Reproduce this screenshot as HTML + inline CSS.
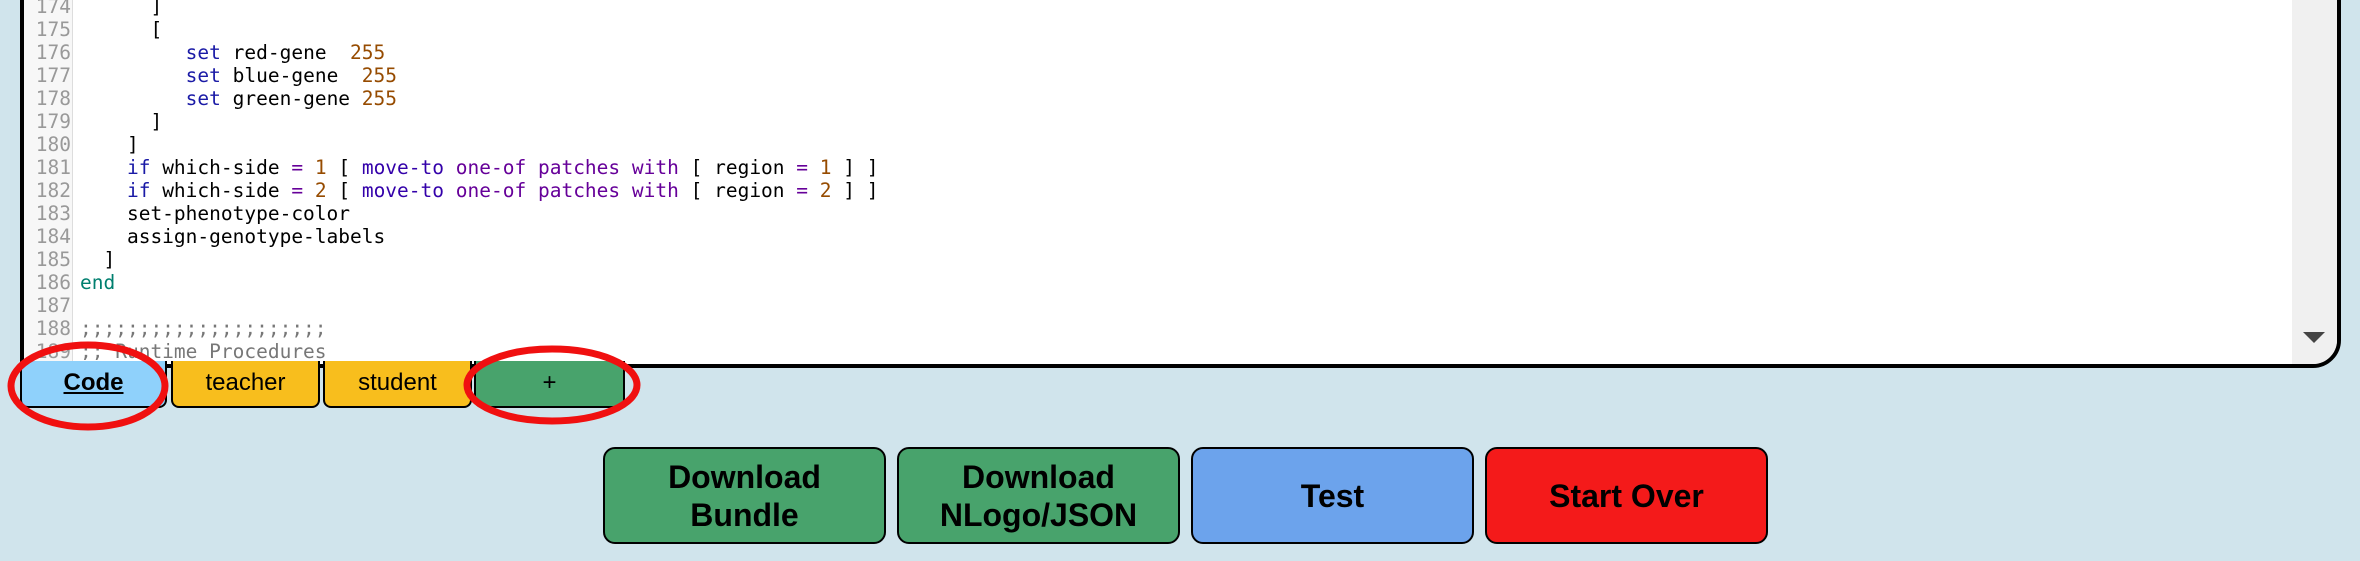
<!DOCTYPE html>
<html><head><meta charset="utf-8">
<style>
html,body{margin:0;padding:0;}
body{width:2360px;height:561px;background:#d0e4ec;position:relative;overflow:hidden;font-family:"Liberation Sans",sans-serif;}
#ed{position:absolute;left:20px;top:-20px;width:2313px;height:380px;background:#fff;border:4px solid #000;border-bottom-right-radius:28px;overflow:hidden;}
#gut{position:absolute;left:0;top:0;width:48px;height:100%;background:#f7f7f7;border-right:1px solid #ddd;}
#sb{position:absolute;right:0;top:0;width:45px;height:100%;background:#f0f0f0;}
#tri{position:absolute;left:2303px;top:332px;width:0;height:0;border-left:11px solid transparent;border-right:11px solid transparent;border-top:11px solid #444;}
.ln{position:absolute;left:0;width:47px;text-align:right;color:#999;font-family:"DejaVu Sans Mono",monospace;font-size:19.5px;line-height:23px;}
.cd{position:absolute;left:56px;white-space:pre;color:#000;font-family:"DejaVu Sans Mono",monospace;font-size:19.5px;line-height:23px;}
.k{color:#1a1aa6}.n{color:#964b00}.p{color:#660099}.m{color:#3300aa}.e{color:#007f6f}.c{color:#777}
.tab{position:absolute;top:361px;height:45px;border:2px solid #000;border-top:none;border-radius:0 0 8px 8px;text-align:center;line-height:43px;font-size:24px;}
.btn{position:absolute;top:447px;height:93px;width:279px;border:2px solid #000;border-radius:12px;display:flex;align-items:center;justify-content:center;text-align:center;font-weight:bold;font-size:32px;line-height:38px;}
</style></head><body>
<div id="ed">
<div id="gut"></div><div id="sb"></div>
</div>
<div id="tri"></div>
<div style="position:absolute;left:24px;top:-5px;width:2270px;height:365px;overflow:hidden;">
<div class="ln" style="top:0">174</div><div class="cd" style="top:0">      ]</div>
<div class="ln" style="top:23px">175</div><div class="cd" style="top:23px">      [</div>
<div class="ln" style="top:46px">176</div><div class="cd" style="top:46px">         <span class="k">set</span> red-gene  <span class="n">255</span></div>
<div class="ln" style="top:69px">177</div><div class="cd" style="top:69px">         <span class="k">set</span> blue-gene  <span class="n">255</span></div>
<div class="ln" style="top:92px">178</div><div class="cd" style="top:92px">         <span class="k">set</span> green-gene <span class="n">255</span></div>
<div class="ln" style="top:115px">179</div><div class="cd" style="top:115px">      ]</div>
<div class="ln" style="top:138px">180</div><div class="cd" style="top:138px">    ]</div>
<div class="ln" style="top:161px">181</div><div class="cd" style="top:161px">    <span class="k">if</span> which-side <span class="p">=</span> <span class="n">1</span> [ <span class="m">move-to</span> <span class="p">one-of</span> <span class="p">patches</span> <span class="p">with</span> [ region <span class="p">=</span> <span class="n">1</span> ] ]</div>
<div class="ln" style="top:184px">182</div><div class="cd" style="top:184px">    <span class="k">if</span> which-side <span class="p">=</span> <span class="n">2</span> [ <span class="m">move-to</span> <span class="p">one-of</span> <span class="p">patches</span> <span class="p">with</span> [ region <span class="p">=</span> <span class="n">2</span> ] ]</div>
<div class="ln" style="top:207px">183</div><div class="cd" style="top:207px">    set-phenotype-color</div>
<div class="ln" style="top:230px">184</div><div class="cd" style="top:230px">    assign-genotype-labels</div>
<div class="ln" style="top:253px">185</div><div class="cd" style="top:253px">  ]</div>
<div class="ln" style="top:276px">186</div><div class="cd" style="top:276px"><span class="e">end</span></div>
<div class="ln" style="top:299px">187</div><div class="cd" style="top:299px"></div>
<div class="ln" style="top:322px">188</div><div class="cd c" style="top:322px">;;;;;;;;;;;;;;;;;;;;;</div>
<div class="ln" style="top:345px">189</div><div class="cd c" style="top:345px">;; Runtime Procedures</div>
</div>
<div class="tab" style="left:20px;width:143px;background:#8fd1fb;font-weight:bold;"><u>Code</u></div>
<div class="tab" style="left:171px;width:145px;background:#f8be1d;">teacher</div>
<div class="tab" style="left:323px;width:145px;background:#f8be1d;">student</div>
<div class="tab" style="left:474px;width:147px;background:#48a36c;">+</div>
<svg style="position:absolute;left:0;top:0" width="2360" height="561">
<ellipse cx="88" cy="386" rx="77" ry="41" fill="none" stroke="#f01010" stroke-width="7"/>
<ellipse cx="552" cy="385" rx="85" ry="36" fill="none" stroke="#f01010" stroke-width="7"/>
</svg>
<div class="btn" style="left:603px;background:#48a36c;">Download<br>Bundle</div>
<div class="btn" style="left:897px;background:#48a36c;">Download<br>NLogo/JSON</div>
<div class="btn" style="left:1191px;background:#6ca3ec;">Test</div>
<div class="btn" style="left:1485px;background:#f41a1a;">Start Over</div>
</body></html>
